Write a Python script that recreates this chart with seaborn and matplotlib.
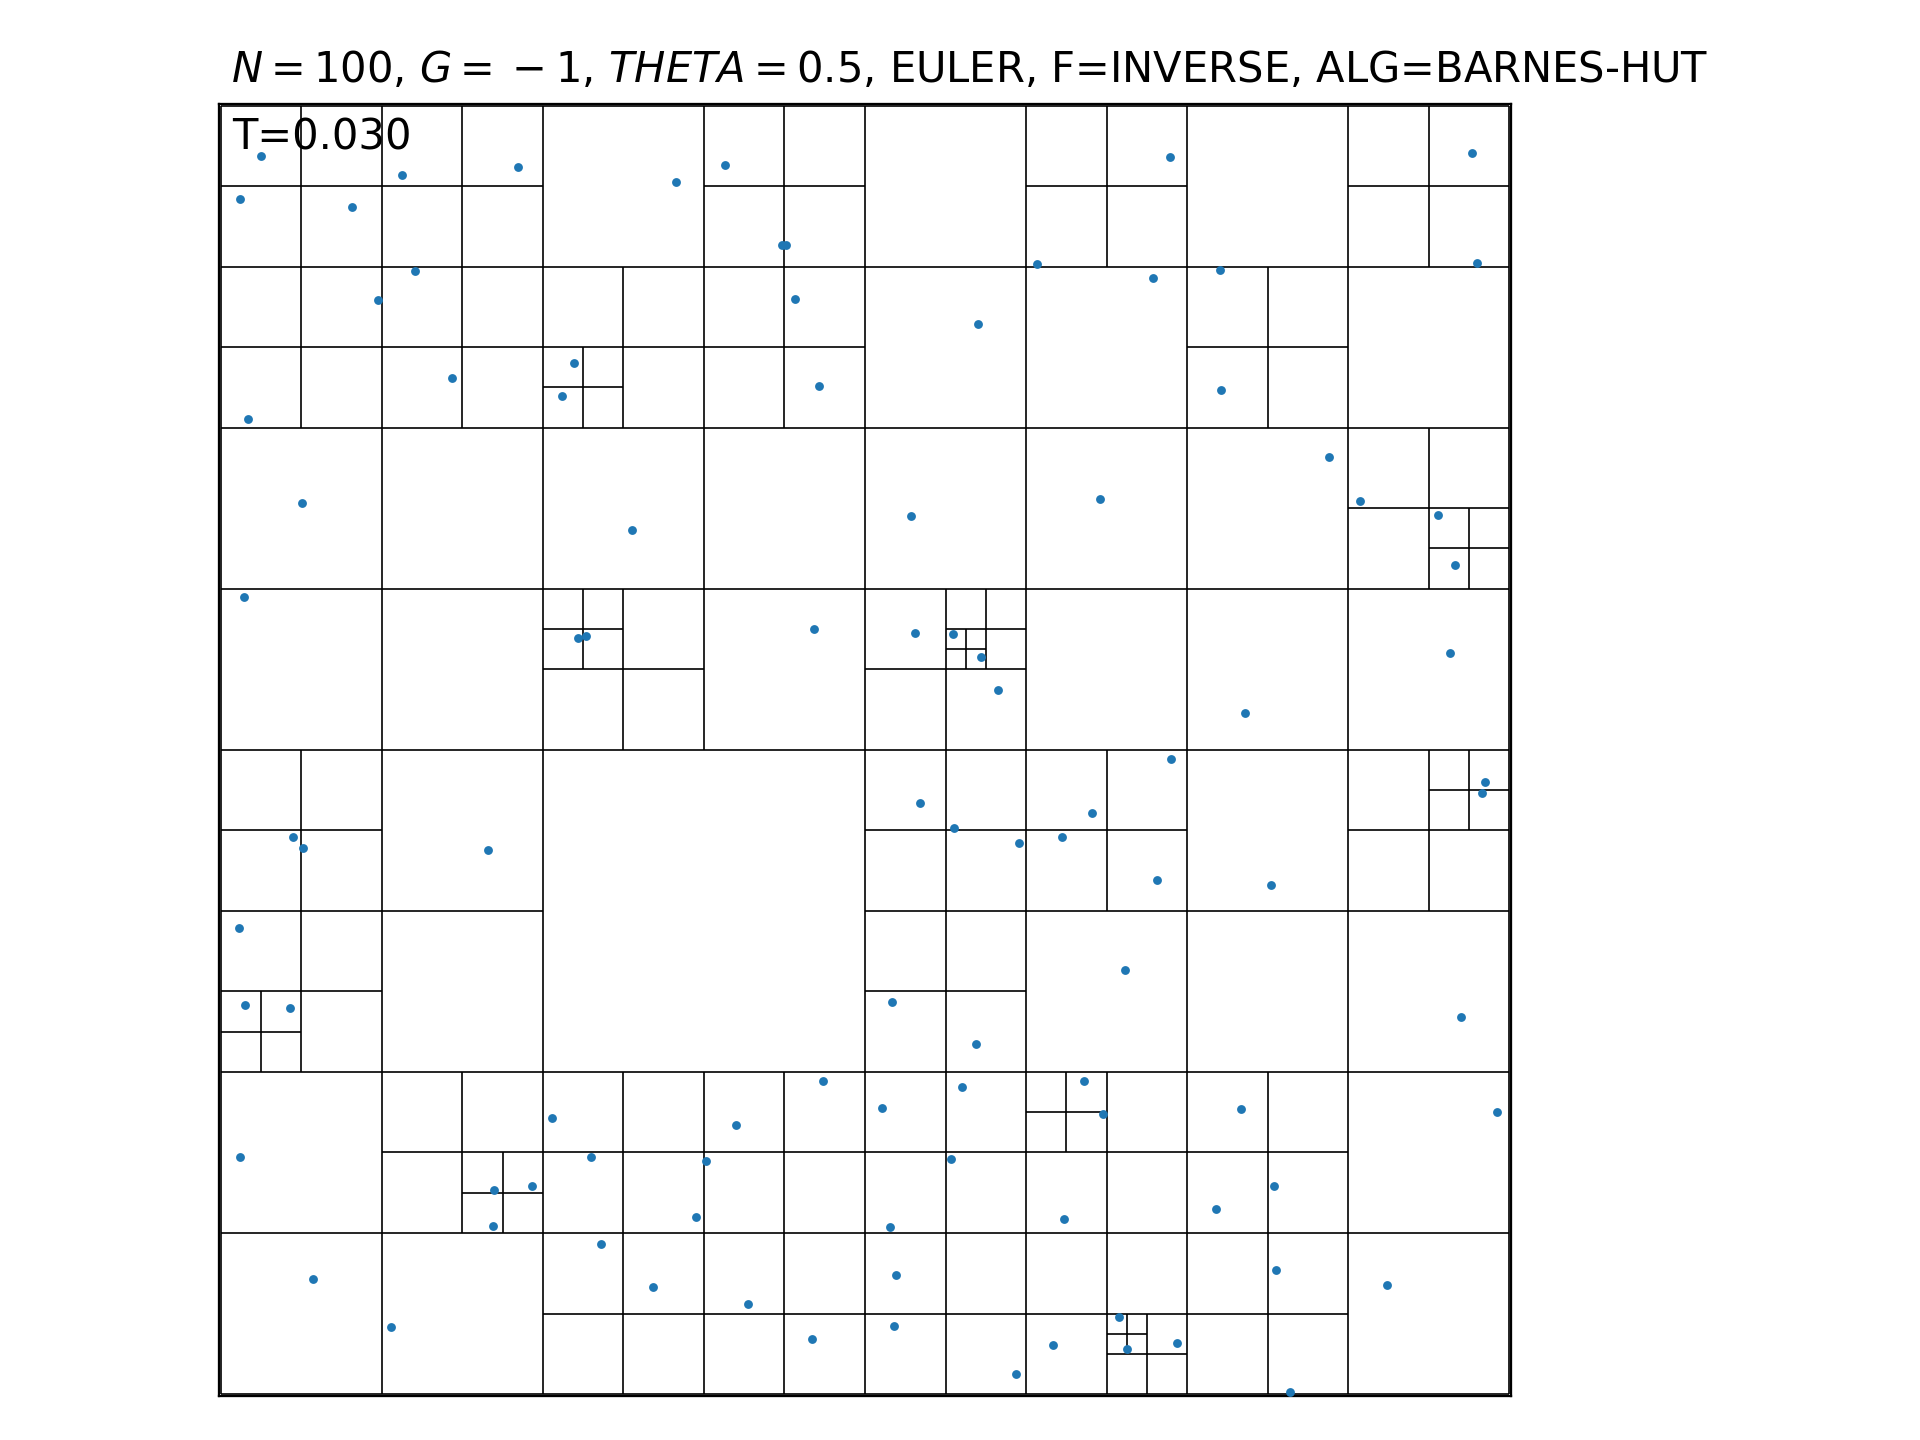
import matplotlib
matplotlib.use("Agg")
import matplotlib.pyplot as plt
import seaborn as sns
import pandas as pd

# simulation parameters shown in the title
N = 100
G = -1
THETA = 0.5
T = 0.030

# body positions at T (domain is the unit square)
pos_x = [0.0310, 0.0147, 0.1017, 0.1405, 0.2305, 0.1505, 0.1218, 0.1793, 0.2739, 0.2646,
         0.0210, 0.0629, 0.3189, 0.3531, 0.3911, 0.4356, 0.4387, 0.4454, 0.4640, 0.5874,
         0.6332, 0.5354, 0.7364, 0.9708, 0.7232, 0.7752, 0.9746, 0.7760, 0.8598, 0.6821,
         0.8838, 0.9444, 0.0178, 0.2770, 0.2835, 0.0559, 0.0640, 0.2072, 0.0140, 0.4602,
         0.5385, 0.5680, 0.5903, 0.6029, 0.5424, 0.5688, 0.6192, 0.6526, 0.9576, 0.9537,
         0.7946, 0.7372, 0.6759, 0.7263, 0.8148, 0.9808, 0.9785, 0.0186, 0.0535, 0.0147,
         0.0714, 0.1319, 0.2569, 0.2871, 0.2118, 0.2413, 0.2111, 0.2949, 0.5207, 0.5859,
         0.4671, 0.3996, 0.5129, 0.5750, 0.6697, 0.3768, 0.3686, 0.3352, 0.4089, 0.4586,
         0.5191, 0.5238, 0.5222, 0.5665, 0.6542, 0.6456, 0.6169, 0.7015, 0.9622, 0.6850,
         0.7915, 0.8171, 0.7721, 0.8187, 0.9048, 0.6968, 0.7030, 0.7418, 0.8295, 0.9902]
pos_y = [0.9612, 0.9271, 0.9209, 0.9457, 0.9519, 0.8712, 0.8487, 0.7882, 0.7998, 0.7742,
         0.7571, 0.6919, 0.6702, 0.9403, 0.9542, 0.8914, 0.8918, 0.8495, 0.7820, 0.8301,
         0.8770, 0.6811, 0.9604, 0.9635, 0.8658, 0.8720, 0.8775, 0.7789, 0.7269, 0.6950,
         0.6927, 0.6826, 0.6182, 0.5864, 0.5880, 0.4322, 0.4235, 0.4219, 0.3614, 0.5934,
         0.5903, 0.5895, 0.5724, 0.5461, 0.4591, 0.4390, 0.4273, 0.4320, 0.6438, 0.5755,
         0.5282, 0.4925, 0.4506, 0.3986, 0.3947, 0.4754, 0.4661, 0.3016, 0.2993, 0.1837,
         0.0890, 0.0518, 0.2139, 0.1837, 0.1583, 0.1612, 0.1301, 0.1162, 0.3039, 0.2714,
         0.2426, 0.2085, 0.2217, 0.2380, 0.2426, 0.1806, 0.1371, 0.0828, 0.0696, 0.0424,
         0.1294, 0.0921, 0.0525, 0.1821, 0.1356, 0.0378, 0.0153, 0.3288, 0.2923, 0.2170,
         0.2209, 0.1612, 0.1433, 0.0960, 0.0843, 0.0595, 0.0347, 0.0393, 0.0018, 0.2186]


def build_tree(idx, x0, y0, size, splits):
    # split any cell holding more than one body into four quadrants
    if len(idx) < 2:
        return
    half = size / 2
    splits.append((x0, y0, size))
    quads = {(0, 0): [], (0, 1): [], (1, 0): [], (1, 1): []}
    for i in idx:
        qx = int(pos_x[i] >= x0 + half)
        qy = int(pos_y[i] >= y0 + half)
        quads[(qx, qy)].append(i)
    for (qx, qy), sub in quads.items():
        build_tree(sub, x0 + qx * half, y0 + qy * half, half, splits)


def nbody_frame():
    df = pd.DataFrame({"x": pos_x, "y": pos_y})

    splits = []
    build_tree(list(range(len(df))), 0.0, 0.0, 1.0, splits)

    fig = plt.figure(figsize=(6.4, 4.8), dpi=300)
    ax = fig.add_axes([0.1141, 0.0308, 0.6728, 0.897])

    lw = 0.4
    # root cell
    ax.hlines([0, 1], 0, 1, colors="black", linewidth=lw)
    ax.vlines([0, 1], 0, 1, colors="black", linewidth=lw)
    # quadrant dividers
    for x0, y0, size in splits:
        half = size / 2
        ax.hlines(y0 + half, x0, x0 + size, colors="black", linewidth=lw)
        ax.vlines(x0 + half, y0, y0 + size, colors="black", linewidth=lw)

    sns.scatterplot(data=df, x="x", y="y", color="#1f77b4", s=4.5,
                    linewidth=0, ax=ax, zorder=3)

    ax.set_xlim(-0.0012, 1.0012)
    ax.set_ylim(-0.0012, 1.0012)
    ax.set_xticks([])
    ax.set_yticks([])
    ax.set_xlabel("")
    ax.set_ylabel("")
    for sp in ax.spines.values():
        sp.set_linewidth(0.55)

    ax.text(0.01, 0.99, f"T={T:.3f}", transform=ax.transAxes,
            va="top", ha="left", fontsize=10)

    # minus drawn with binary-operator spacing, as in the original render
    title = (f"$N = {N}$, $G = \\:{{-}}\\:{abs(G)}$, $THETA = {THETA}$, "
             "EULER, F=INVERSE, ALG=BARNES-HUT")
    fig.text(0.505, 1 - 82.3 / 1440, title, ha="center", va="baseline",
             fontsize=10)

    fig.savefig("out.png", dpi=300)


if __name__ == "__main__":
    nbody_frame()
